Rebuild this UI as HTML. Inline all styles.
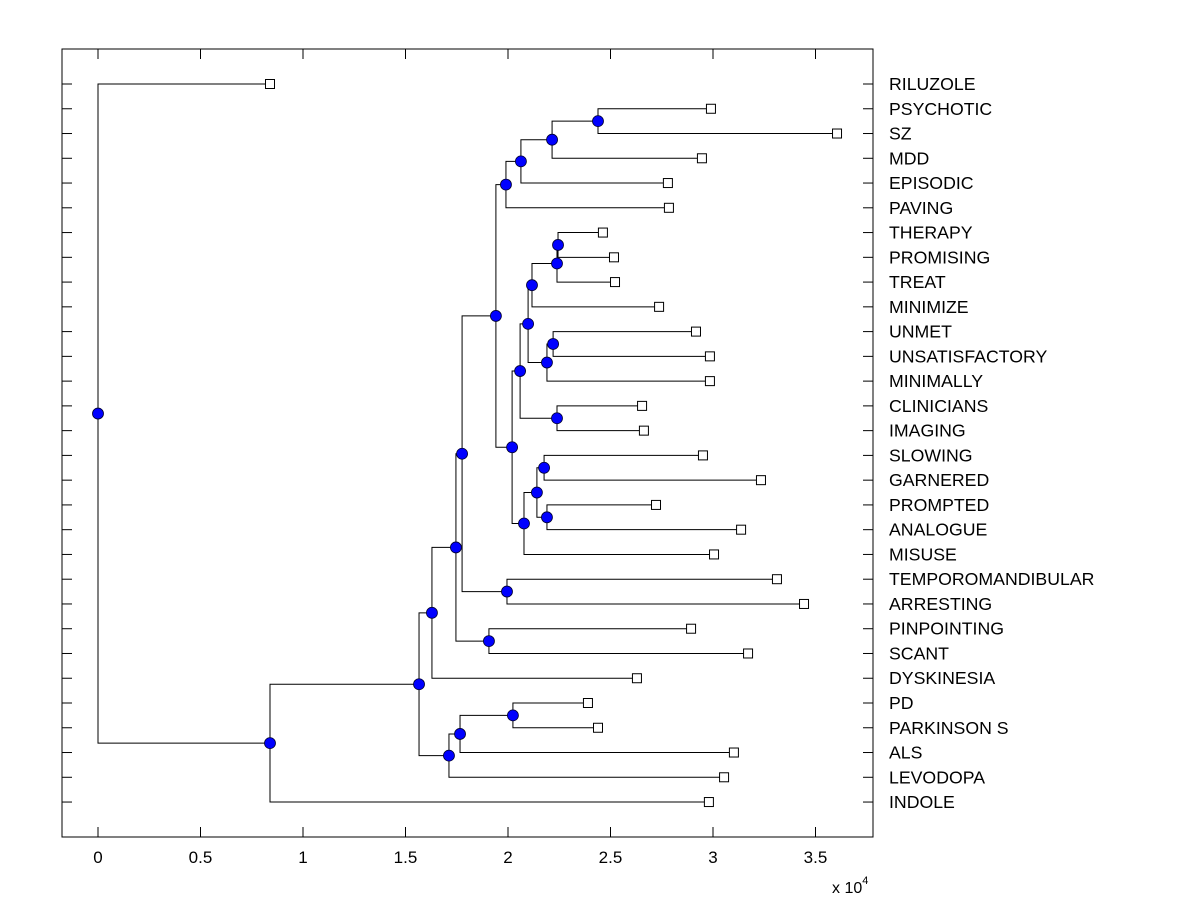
<!DOCTYPE html>
<html><head><meta charset="utf-8"><style>
body{margin:0;background:#fff;}
svg text{font-family:"Liberation Sans",Arial,sans-serif;fill:#000;}
</style></head><body>
<svg id="chart" width="1200" height="900" xmlns="http://www.w3.org/2000/svg">
<rect x="0" y="0" width="1200" height="900" fill="#fff"/>
<g id="plot"></g>
</svg>
<script>
const leafNames=["RILUZOLE","PSYCHOTIC","SZ","MDD","EPISODIC","PAVING","THERAPY","PROMISING","TREAT","MINIMIZE","UNMET","UNSATISFACTORY","MINIMALLY","CLINICIANS","IMAGING","SLOWING","GARNERED","PROMPTED","ANALOGUE","MISUSE","TEMPOROMANDIBULAR","ARRESTING","PINPOINTING","SCANT","DYSKINESIA","PD","PARKINSON S","ALS","LEVODOPA","INDOLE"];
const leafValues=[0.839,2.99,3.605,2.946,2.78,2.785,2.463,2.517,2.522,2.737,2.917,2.985,2.985,2.654,2.663,2.951,3.234,2.722,3.137,3.005,3.312,3.444,2.893,3.171,2.629,2.39,2.439,3.102,3.054,2.98];
const nodeValues=[0,0.839,1.566,1.629,1.712,1.766,2.024,1.746,1.776,1.907,1.941,1.995,1.99,2.02,2.063,2.215,2.439,2.059,2.078,2.098,2.239,2.117,2.19,2.239,2.244,2.22,2.141,2.176,2.19];
const nodeChildren=[["L0","N1"],["N2","L29"],["N3","N4"],["N7","L24"],["N5","L28"],["N6","L27"],["L25","L26"],["N8","N9"],["N10","N11"],["L22","L23"],["N12","N13"],["L20","L21"],["N14","L5"],["N17","N18"],["N15","L4"],["N16","L3"],["L1","L2"],["N19","N20"],["N26","L19"],["N21","N22"],["L13","L14"],["N23","L9"],["N25","L12"],["N24","L8"],["L6","L7"],["L10","L11"],["N27","N28"],["L15","L16"],["L17","L18"]];
const xTicks=[0,0.5,1,1.5,2,2.5,3,3.5];
const xTickLabels=["0","0.5","1","1.5","2","2.5","3","3.5"];

const NS="http://www.w3.org/2000/svg";
const g=document.getElementById('plot');
const L=62,R=873,T=49,B=837;
const X=v=>98+v*205;
const Y=i=>84+i*24.76;
function mk(tag,attrs,parent){const e=document.createElementNS(NS,tag);for(const k in attrs)e.setAttribute(k,attrs[k]);(parent||g).appendChild(e);return e;}

const box=mk('rect',{x:L,y:T,width:R-L,height:B-T,fill:'none',stroke:'#000','stroke-width':1});



xTicks.forEach((t,i)=>{
  const x=X(t);
  const tk=mk('line',{x1:x,x2:x,y1:B,y2:B-10,stroke:'#000'});
  
  
  const tt=mk('line',{x1:x,x2:x,y1:T,y2:T+10,stroke:'#000'});
  
  
  const lb=mk('text',{x:x,y:863,'text-anchor':'middle','font-size':17});
  lb.textContent=xTickLabels[i];
  
  
});
const ex=mk('text',{x:832,y:893,'font-size':16});
ex.innerHTML='x 10<tspan dy="-9" font-size="11">4</tspan>';



leafNames.forEach((n,i)=>{
  const y=Y(i);
  const a=mk('line',{x1:L,x2:L+10,y1:y,y2:y,stroke:'#000'});
  
  
  const b=mk('line',{x1:R-10,x2:R,y1:y,y2:y,stroke:'#000'});
  
  
  const t=mk('text',{x:889,y:y+6,'font-size':17.7});
  t.textContent=n;
  
  
});

function pos(id){
  const k=+id.slice(1);
  if(id[0]==='L') return {x:X(leafValues[k]),y:Y(k)};
  const c=nodeChildren[k];
  const a=pos(c[0]),b=pos(c[1]);
  return {x:X(nodeValues[k]),y:(a.y+b.y)/2};
}
const lines=mk('g',{});


nodeChildren.forEach((c,k)=>{
  const p=pos('N'+k),a=pos(c[0]),b=pos(c[1]);
  const d=`M${a.x},${a.y}H${p.x}V${b.y}H${b.x}`;
  const pa=mk('path',{d:d,fill:'none',stroke:'#000','stroke-width':1},lines);
  
  
});
leafNames.forEach((n,i)=>{
  const p=pos('L'+i);
  const r=mk('rect',{x:p.x-4.5,y:p.y-4.5,width:9,height:9,fill:'#fff',stroke:'#000','stroke-width':1});
  
  
});
nodeChildren.forEach((c,k)=>{
  const p=pos('N'+k);
  const ci=mk('circle',{cx:p.x,cy:p.y,r:5.5,fill:'#0000ff',stroke:'#000033','stroke-width':0.8});
  
  
});
</script>
</body></html>
